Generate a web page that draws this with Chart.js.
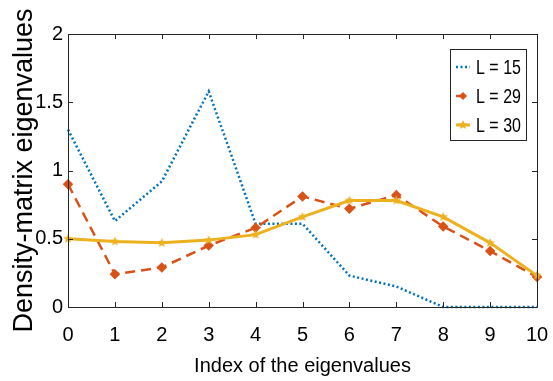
<!DOCTYPE html>
<html>
<head>
<meta charset="utf-8">
<script src="https://cdn.jsdelivr.net/npm/chart.js@4/dist/chart.umd.min.js"></script>
<style>
  html, body { margin: 0; padding: 0; background: #fff; }
  #wrap { width: 553px; height: 381px; }
</style>
</head>
<body>
<div id="wrap"><canvas id="eig-canvas"></canvas></div>
<script>
// eigenvalue index and the spectra for each system size
const eigIndex = [0, 1, 2, 3, 4, 5, 6, 7, 8, 9, 10];
const eigL15 = [1.30, 0.63, 0.92, 1.58, 0.61, 0.61, 0.23, 0.15, 0, 0, 0];
const eigL29 = [0.90, 0.24, 0.29, 0.45, 0.58, 0.81, 0.72, 0.82, 0.59, 0.41, 0.22];
const eigL30 = [0.50, 0.48, 0.47, 0.49, 0.53, 0.66, 0.78, 0.78, 0.66, 0.47, 0.23];
const seriesNames = ["L = 15", "L = 29", "L = 30"];

const BLUE = "#0072BD";
const ORANGE = "#D95319";
const YELLOW = "#EDB120";
const AXIS = "#262626";
const FONT = "'Liberation Sans', Arial, sans-serif";

// little filled pentagram used as the marker for L = 30
const makeStar = (r, color) => {
  const c = document.createElement("canvas");
  c.width = c.height = r * 2 + 2;
  const g = c.getContext("2d");
  g.fillStyle = color;
  g.beginPath();
  for (let i = 0; i < 10; i++) {
    const rad = i % 2 ? r * 0.45 : r;
    const a = -Math.PI / 2 + (i * Math.PI) / 5;
    g.lineTo(r + 1 + rad * Math.cos(a), r + 1 + rad * Math.sin(a));
  }
  g.closePath();
  g.fill();
  return c;
};
const starImg = makeStar(5, YELLOW);

const toPoints = (ys) => eigIndex.map((x, i) => ({ x: x, y: ys[i] }));

// box around the plot with inward ticks on every side
const frameTicks = {
  id: "frameTicks",
  afterDatasetsDraw(chart) {
    const { ctx, chartArea: a, scales } = chart;
    const len = 5;
    ctx.save();
    ctx.strokeStyle = AXIS;
    ctx.lineWidth = 1;
    ctx.beginPath();
    ctx.rect(a.left + 0.5, a.top + 0.5, a.right - a.left, a.bottom - a.top);
    scales.x.ticks.forEach((t) => {
      const px = Math.round(scales.x.getPixelForValue(t.value)) + 0.5;
      ctx.moveTo(px, a.bottom);
      ctx.lineTo(px, a.bottom - len);
      ctx.moveTo(px, a.top);
      ctx.lineTo(px, a.top + len);
    });
    scales.y.ticks.forEach((t) => {
      const py = Math.round(scales.y.getPixelForValue(t.value)) + 0.5;
      ctx.moveTo(a.left, py);
      ctx.lineTo(a.left + len, py);
      ctx.moveTo(a.right, py);
      ctx.lineTo(a.right - len, py);
    });
    ctx.stroke();
    ctx.restore();
  },
};

// legend box in the upper right corner
const boxLegend = {
  id: "boxLegend",
  afterDraw(chart) {
    const { ctx } = chart;
    const bx = 450.5, by = 49.5, bw = 76, bh = 91;
    ctx.save();
    ctx.fillStyle = "#fff";
    ctx.fillRect(bx, by, bw, bh);
    ctx.strokeStyle = AXIS;
    ctx.lineWidth = 1;
    ctx.strokeRect(bx, by, bw, bh);
    const rows = [67, 96, 125];
    chart.data.datasets.forEach((ds, i) => {
      const y = rows[i];
      ctx.strokeStyle = ds.borderColor;
      ctx.lineWidth = ds.borderWidth;
      ctx.setLineDash(ds.borderDash || []);
      ctx.beginPath();
      ctx.moveTo(456, y);
      ctx.lineTo(470, y);
      ctx.stroke();
      ctx.setLineDash([]);
      if (ds.pointStyle === "rectRot") {
        ctx.fillStyle = ds.pointBackgroundColor;
        ctx.beginPath();
        ctx.moveTo(463, y - 4);
        ctx.lineTo(467, y);
        ctx.lineTo(463, y + 4);
        ctx.lineTo(459, y);
        ctx.closePath();
        ctx.fill();
      } else if (ds.pointStyle === starImg) {
        ctx.drawImage(starImg, 463 - starImg.width / 2, y - starImg.height / 2);
      }
      // labels are set a little condensed
      ctx.save();
      ctx.translate(476, y + 1);
      ctx.scale(0.8, 1);
      ctx.fillStyle = "#000";
      ctx.font = "20px " + FONT;
      ctx.textBaseline = "middle";
      ctx.fillText(ds.label, 0, 0);
      ctx.restore();
    });
    ctx.restore();
  },
};

new Chart(document.getElementById("eig-canvas"), {
  type: "line",
  data: {
    datasets: [
      {
        label: seriesNames[0],
        data: toPoints(eigL15),
        borderColor: BLUE,
        borderWidth: 2.5,
        borderDash: [2, 2.5],
        pointRadius: 0,
        order: 2,
        clip: false,
      },
      {
        label: seriesNames[1],
        data: toPoints(eigL29),
        borderColor: ORANGE,
        borderWidth: 2.5,
        borderDash: [10, 6],
        pointStyle: "rectRot",
        pointRadius: 3.5,
        pointBackgroundColor: ORANGE,
        pointBorderColor: ORANGE,
        order: 1,
        clip: false,
      },
      {
        label: seriesNames[2],
        data: toPoints(eigL30),
        borderColor: YELLOW,
        borderWidth: 3,
        pointStyle: starImg,
        pointRadius: 5,
        order: 0,
        clip: false,
      },
    ],
  },
  options: {
    responsive: true,
    maintainAspectRatio: false,
    animation: false,
    layout: {
      padding: { left: 0, right: 16, top: 34, bottom: 0 },
    },
    plugins: {
      legend: { display: false },
      tooltip: { enabled: false },
    },
    scales: {
      x: {
        type: "linear",
        min: 0,
        max: 10,
        grid: { display: false, drawTicks: false },
        border: { display: false },
        afterFit: (s) => {
          s.height = 74;
          // let the "10" label hang into the right margin
          s.paddingLeft = 0;
          s.paddingRight = 0;
        },
        ticks: {
          stepSize: 1,
          padding: 16,
          color: "#000",
          maxRotation: 0,
          font: { family: FONT, size: 20 },
        },
        title: {
          display: true,
          text: "Index of the eigenvalues",
          color: "#000",
          font: { family: FONT, size: 20 },
          padding: { top: 0, bottom: 3 },
        },
      },
      y: {
        min: 0,
        max: 2,
        grid: { display: false, drawTicks: false },
        border: { display: false },
        afterFit: (s) => { s.width = 68; },
        ticks: {
          stepSize: 0.5,
          padding: 5,
          color: "#000",
          font: { family: FONT, size: 20 },
          callback: (v) => String(v),
        },
        title: {
          display: true,
          text: "Density-matrix eigenvalues",
          color: "#000",
          font: { family: FONT, size: 27 },
          padding: { top: 8, bottom: 0 },
        },
      },
    },
  },
  plugins: [frameTicks, boxLegend],
});
</script>
</body>
</html>
